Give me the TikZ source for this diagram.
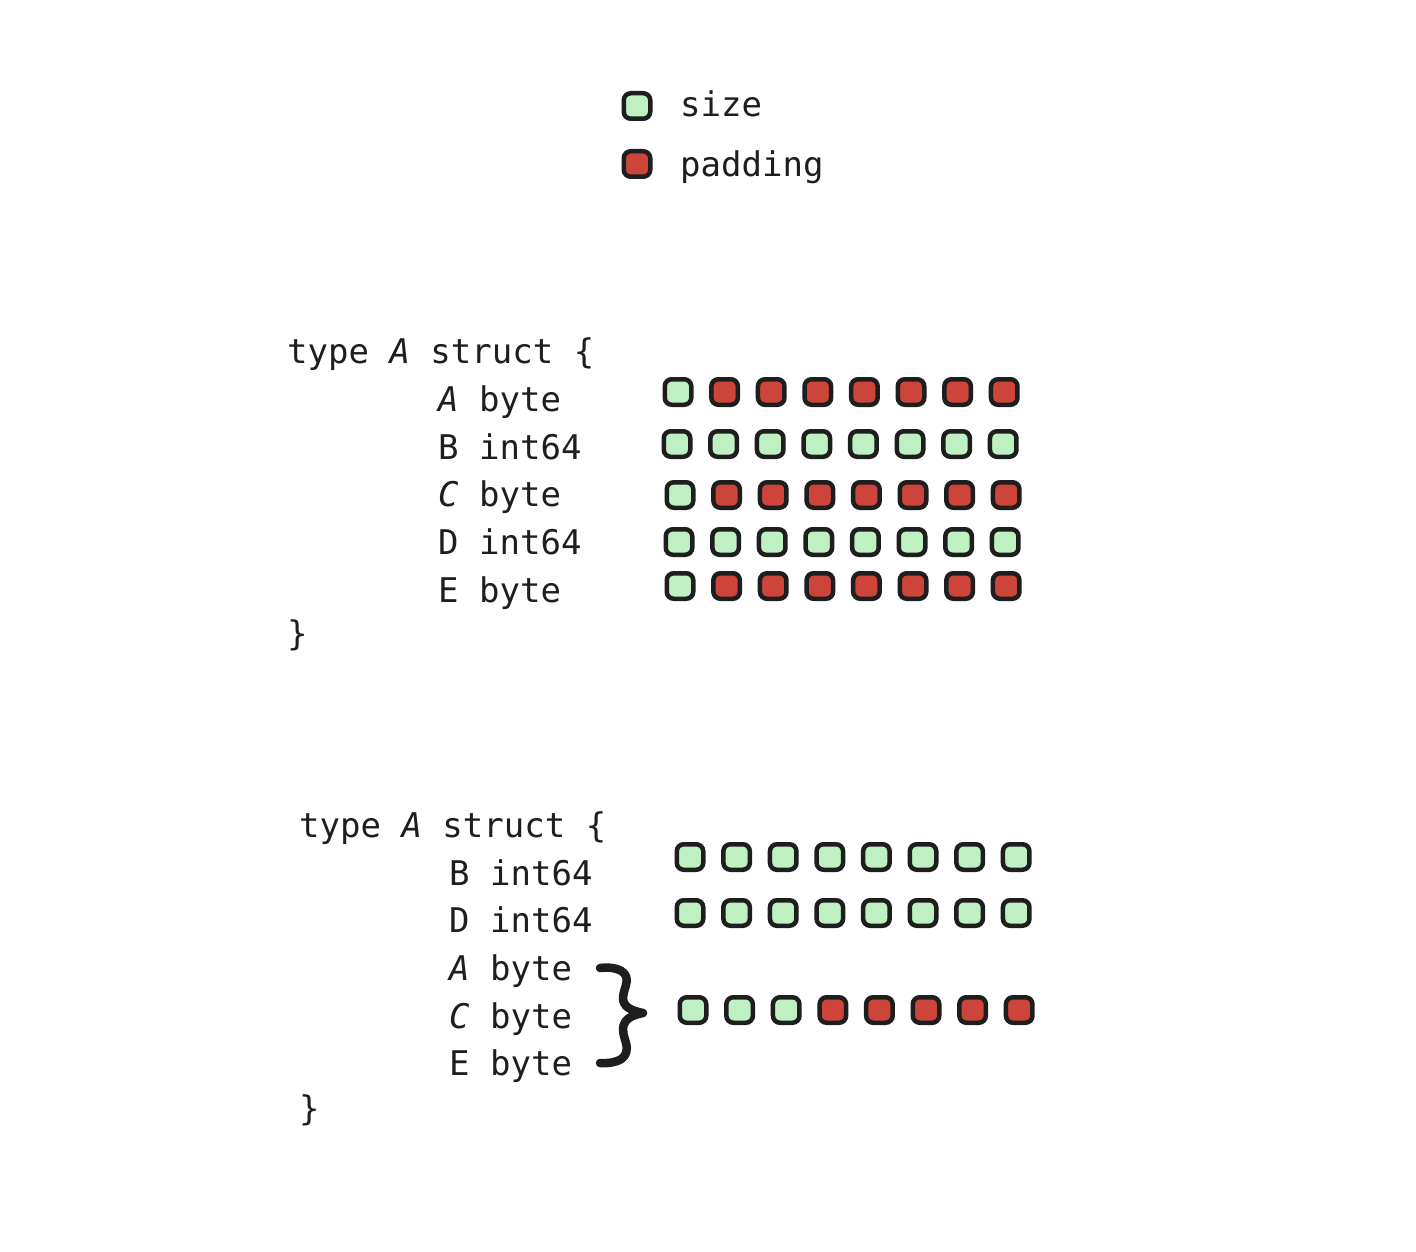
\documentclass[tikz,border=0pt]{standalone}
\usepackage{fontspec}
\setmonofont{DejaVu Sans Mono}
\definecolor{ink}{HTML}{1E1E1E}
\definecolor{sizeg}{HTML}{BEF0C2}
\definecolor{padr}{HTML}{CD443A}
\begin{document}
\begin{tikzpicture}[x=1pt,y=-1pt,
  cell/.style={draw=ink, line width=4.5pt, rounded corners=7pt, minimum width=26.5pt, minimum height=25.5pt, inner sep=0pt},
  code/.style={font=\ttfamily\fontsize{34}{34}\selectfont, text=ink, anchor=base west, inner sep=0pt}]
\path[use as bounding box, fill=white] (0,0) rectangle (1416,1252);

% legend
\node[cell, fill=sizeg] (legsize) at (637,106) {};
\node[cell, fill=padr] (legpad) at (637,164) {};
\node[code] (legsizet) at (680,117) {size};
\node[code] (legpadt) at (680,177) {padding};

% top struct
\node[code] (ta0) at (287,363) {type \textit{A} struct \{};
\node[code] (ta1) at (438,411) {\textit{A} byte};
\node[code] (ta2) at (438,459) {B int64};
\node[code] (ta3) at (438,506) {\textit{C} byte};
\node[code] (ta4) at (438,554) {D int64};
\node[code] (ta5) at (438,602) {E byte};
\node[code] (ta6) at (287,645) {\}};

% bottom struct
\node[code] (tb0) at (299,837) {type \textit{A} struct \{};
\node[code] (tb1) at (449,885) {B int64};
\node[code] (tb2) at (449,932) {D int64};
\node[code] (tb3) at (449,980) {\textit{A} byte};
\node[code] (tb4) at (449,1028) {\textit{C} byte};
\node[code] (tb5) at (449,1075) {E byte};
\node[code] (tb6) at (299,1120) {\}};

% top squares
\foreach \rw/\yy/\xs/\pat in {
  1/392/678/{sizeg,padr,padr,padr,padr,padr,padr,padr},
  2/444/677/{sizeg,sizeg,sizeg,sizeg,sizeg,sizeg,sizeg,sizeg},
  3/495/680/{sizeg,padr,padr,padr,padr,padr,padr,padr},
  4/542/679/{sizeg,sizeg,sizeg,sizeg,sizeg,sizeg,sizeg,sizeg},
  5/586/680/{sizeg,padr,padr,padr,padr,padr,padr,padr}}{
  \foreach \c [count=\i] in \pat {
    \node[cell, fill=\c] (t\rw-\i) at ({\xs+(\i-1)*46.6},\yy) {};
  }
}

% bottom squares
\foreach \rw/\yy/\xs/\pat in {
  1/857/690/{sizeg,sizeg,sizeg,sizeg,sizeg,sizeg,sizeg,sizeg},
  2/913/690/{sizeg,sizeg,sizeg,sizeg,sizeg,sizeg,sizeg,sizeg},
  3/1010/693/{sizeg,sizeg,sizeg,padr,padr,padr,padr,padr}}{
  \foreach \c [count=\i] in \pat {
    \node[cell, fill=\c] (b\rw-\i) at ({\xs+(\i-1)*46.6},\yy) {};
  }
}

% hand-drawn brace
\draw[ink, line width=8.5pt, line cap=round, line join=round]
  (600,968) .. controls (618,966) and (630,972) .. (626,985)
  .. controls (622,998) and (618,1008) .. (643,1013)
  .. controls (618,1018) and (622,1030) .. (626,1043)
  .. controls (630,1058) and (618,1064) .. (600,1063);
\end{tikzpicture}
\end{document}
